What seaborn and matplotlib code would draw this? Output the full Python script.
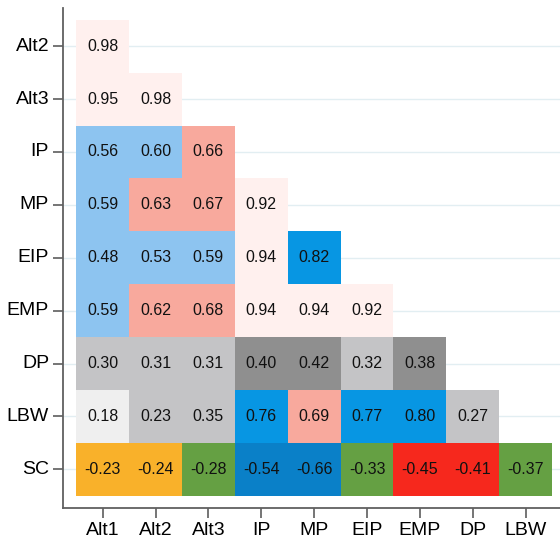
import numpy as np
import pandas as pd
import seaborn as sns
from matplotlib import pyplot as plt
from matplotlib.colors import ListedColormap

rows = ["Alt2", "Alt3", "IP", "MP", "EIP", "EMP", "DP", "LBW", "SC"]
cols = ["Alt1", "Alt2", "Alt3", "IP", "MP", "EIP", "EMP", "DP", "LBW"]

# lower triangle correlations, one list per row
r_alt2 = [0.98]
r_alt3 = [0.95, 0.98]
r_ip = [0.56, 0.60, 0.66]
r_mp = [0.59, 0.63, 0.67, 0.92]
r_eip = [0.48, 0.53, 0.59, 0.94, 0.82]
r_emp = [0.59, 0.62, 0.68, 0.94, 0.94, 0.92]
r_dp = [0.30, 0.31, 0.31, 0.40, 0.42, 0.32, 0.38]
r_lbw = [0.18, 0.23, 0.35, 0.76, 0.69, 0.77, 0.80, 0.27]
r_sc = [-0.23, -0.24, -0.28, -0.54, -0.66, -0.33, -0.45, -0.41, -0.37]

# colour group of each cell
g_alt2 = [0]
g_alt3 = [0, 0]
g_ip = [1, 1, 2]
g_mp = [1, 2, 2, 0]
g_eip = [1, 1, 1, 0, 3]
g_emp = [1, 2, 2, 0, 0, 0]
g_dp = [5, 5, 5, 6, 6, 5, 6]
g_lbw = [7, 5, 5, 3, 2, 3, 3, 5]
g_sc = [8, 8, 9, 4, 4, 9, 10, 10, 9]

palette = ["#FFF0EE", "#8DC4F0", "#F8A99D", "#0796E3", "#0A80C8",
           "#C4C4C6", "#8F8F8F", "#EFEFEF", "#F9B12A", "#65A043", "#F6281D"]


def fill(lists):
    m = np.full((len(rows), len(cols)), np.nan)
    for i, vals in enumerate(lists):
        m[i, :len(vals)] = vals
    return m


corr = pd.DataFrame(fill([r_alt2, r_alt3, r_ip, r_mp, r_eip, r_emp, r_dp, r_lbw, r_sc]),
                    index=rows, columns=cols)
groups = pd.DataFrame(fill([g_alt2, g_alt3, g_ip, g_mp, g_eip, g_emp, g_dp, g_lbw, g_sc]),
                      index=rows, columns=cols)

sns.set_style("white")
plt.rcParams['font.family'] = ['Liberation Sans', 'DejaVu Sans']

fig = plt.figure(figsize=(5.6, 5.39), dpi=100)
ax = fig.add_axes([0.1125, 0.0575, 0.8875, 0.9275])

annot = corr.map(lambda v: "" if np.isnan(v) else f"{v:.2f}")
sns.heatmap(groups, ax=ax, cmap=ListedColormap(palette), vmin=-0.5, vmax=len(palette) - 0.5,
            mask=groups.isna(), annot=annot, fmt="", cbar=False, linewidths=0,
            annot_kws={"fontsize": 11.5, "color": "#111111"})

ax.set_xlim(-0.25, 9.15)
ax.set_ylim(9.23, -0.22)

ax.set_axisbelow(True)
ax.yaxis.grid(True, color="#E2EEF2", linewidth=1)
ax.xaxis.grid(False)

for side in ["left", "bottom"]:
    ax.spines[side].set_visible(True)
    ax.spines[side].set_color("#606060")
    ax.spines[side].set_linewidth(1.3)
ax.spines["top"].set_visible(False)
ax.spines["right"].set_visible(False)

ax.tick_params(axis="both", which="both", direction="out", length=7, width=1.1,
               color="#505050", labelcolor="black", labelsize=14,
               left=True, bottom=True, pad=3)
ax.set_yticklabels(rows, rotation=0)
ax.set_xticklabels(cols, rotation=0)
ax.set_xlabel("")
ax.set_ylabel("")

plt.savefig("out.png", dpi=100)
